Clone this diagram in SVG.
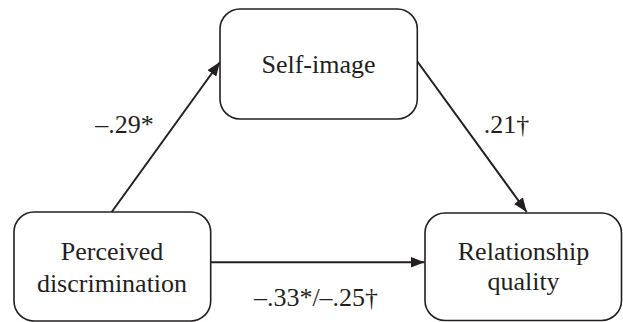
<svg xmlns="http://www.w3.org/2000/svg" width="623" height="322" viewBox="0 0 623 322">
<style>
.box{fill:#fff;stroke:#231f20;stroke-width:1.6}
text{font-family:'Times New Roman','Liberation Serif','DejaVu Serif',Tinos,serif;font-size:26px;fill:#231f20;text-anchor:middle}
.conn{stroke:#231f20;stroke-width:2;fill:none}
</style>
<defs>
<marker id="arr" viewBox="0 0 14 11" refX="14" refY="5.5" markerWidth="14" markerHeight="11" markerUnits="userSpaceOnUse" orient="auto">
<path d="M0,0 L14,5.5 L0,11 Z" fill="#231f20"/>
</marker>
</defs>
<rect width="623" height="322" fill="#fff"/>
<g id="connectors">
<path class="conn" d="M111.7,212 L220,62" marker-end="url(#arr)"/>
<path class="conn" d="M417,61 L526.7,212" marker-end="url(#arr)"/>
<path class="conn" d="M210.7,262.3 L424.5,262.3" marker-end="url(#arr)"/>
<text x="124.5" y="133">–.29*</text>
<text x="506.5" y="133">.21†</text>
<text x="316" y="306">–.33*/–.25†</text>
</g>
<g id="self-image">
<rect class="box" x="220" y="9" width="197.3" height="110" rx="20"/>
<text x="318.5" y="72.7">Self-image</text>
</g>
<g id="perceived-discrimination">
<rect class="box" x="14" y="212" width="196.7" height="109" rx="20"/>
<text x="112" y="260">Perceived</text>
<text x="112" y="291.5">discrimination</text>
</g>
<g id="relationship-quality">
<rect class="box" x="425" y="213" width="196.5" height="107.5" rx="20"/>
<text x="523.5" y="260">Relationship</text>
<text x="523.5" y="290">quality</text>
</g>
</svg>
